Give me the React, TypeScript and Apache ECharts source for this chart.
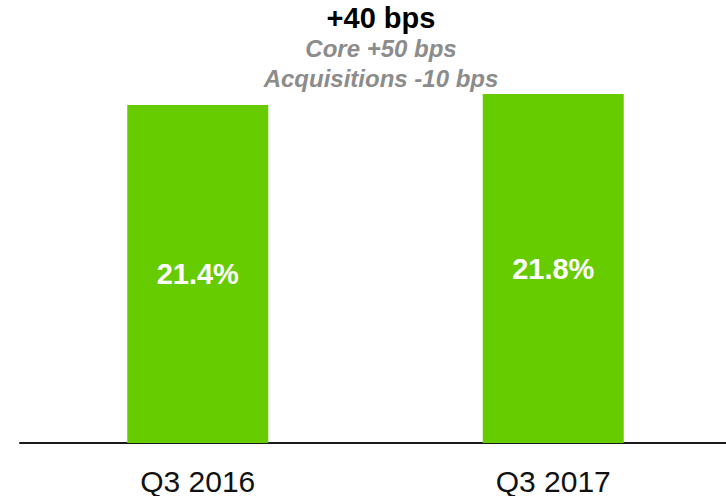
import React, { useEffect, useRef } from "react";
import * as echarts from "echarts";

const categories = ["Q3 2016", "Q3 2017"];
const marginValues = [21.4, 21.8];
const headline = "+40 bps";
const subLines = ["Core +50 bps", "Acquisitions -10 bps"];

export default function App() {
  const ref = useRef<HTMLDivElement>(null);
  useEffect(() => {
    if (!ref.current) return;
    const chart = echarts.init(ref.current, null, { renderer: "svg" });
    chart.setOption({
      animation: false,
      grid: { left: 20, right: 0, top: 94, bottom: 53 },
      xAxis: {
        type: "category",
        data: categories,
        axisLine: { lineStyle: { color: "#1a1a1a", width: 2 } },
        axisTick: { show: false },
        axisLabel: {
          color: "#111",
          fontSize: 30,
          fontFamily: "Liberation Sans, Arial, sans-serif",
          margin: 23,
        },
      },
      yAxis: {
        type: "value",
        min: 9,
        max: 21.8,
        show: false,
        splitLine: { show: false },
      },
      series: [
        {
          type: "bar",
          data: marginValues,
          barWidth: 141,
          itemStyle: { color: "#66CC00" },
          label: {
            show: true,
            position: "inside",
            formatter: "{c}%",
            color: "#ffffff",
            fontSize: 29,
            fontWeight: "bold",
            fontFamily: "Liberation Sans, Arial, sans-serif",
          },
        },
      ],
      graphic: [
        {
          type: "text",
          x: 381,
          y: 18,
          style: {
            text: headline,
            fill: "#000",
            font: "bold 29px 'Liberation Sans', Arial, sans-serif",
            textAlign: "center",
            textVerticalAlign: "middle",
          },
        },
        ...subLines.map((t, i) => ({
          type: "text",
          x: 381,
          y: 48 + i * 30,
          style: {
            text: t,
            fill: "#8c8c8c",
            font: "italic bold 24px 'Liberation Sans', Arial, sans-serif",
            textAlign: "center",
            textVerticalAlign: "middle",
          },
        })),
      ],
    });
    return () => chart.dispose();
  }, []);
  return (
    <div style={{ width: 726, height: 496, position: "absolute", left: 0, top: 0, overflow: "hidden" }}>
      <div ref={ref} style={{ width: 731, height: 496 }} />
    </div>
  );
}
